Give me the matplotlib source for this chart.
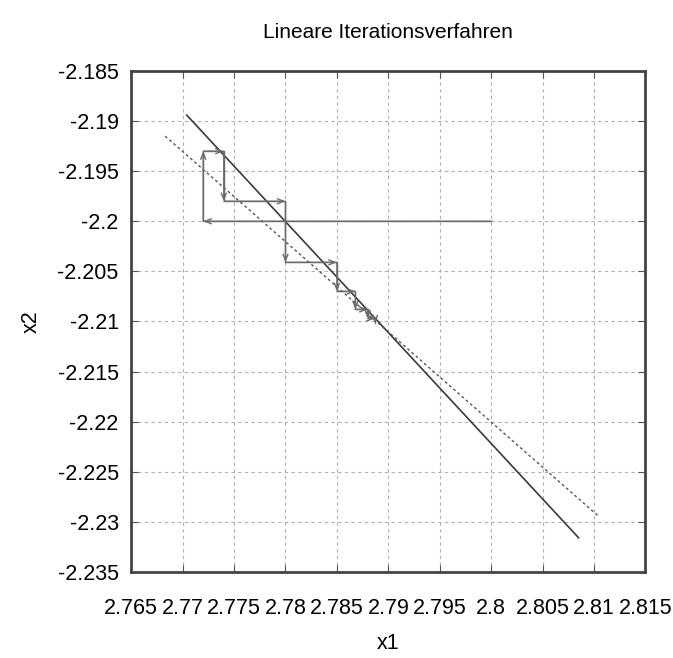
import matplotlib
matplotlib.use("Agg")
import matplotlib.pyplot as plt

# the two straight lines (solid = first equation, dotted = second)
line1_x = [2.7704, 2.8085]
line1_y = [-2.1894, -2.2316]
line2_x = [2.7683, 2.8105]
line2_y = [-2.1915, -2.2295]

# iteration path, start at (2.8, -2.2)
iter_x = [2.8, 2.772, 2.772, 2.774, 2.774, 2.780, 2.780, 2.785, 2.785,
          2.7868, 2.7868, 2.7880, 2.7880, 2.7887, 2.7887]
iter_y = [-2.2, -2.2, -2.193, -2.193, -2.198, -2.198, -2.2041, -2.2041,
          -2.207, -2.207, -2.2088, -2.2088, -2.2097, -2.2097, -2.2102]

xticks = [2.765, 2.77, 2.775, 2.78, 2.785, 2.79, 2.795, 2.8, 2.805, 2.81, 2.815]
xtick_labels = ["2.765", "2.77", "2.775", "2.78", "2.785", "2.79", "2.795",
                "2.8", "2.805", "2.81", "2.815"]
yticks = [-2.185, -2.19, -2.195, -2.2, -2.205, -2.21, -2.215, -2.22,
          -2.225, -2.23, -2.235]
ytick_labels = ["-2.185", "-2.19", "-2.195", "-2.2", "-2.205", "-2.21",
                "-2.215", "-2.22", "-2.225", "-2.23", "-2.235"]

plt.rcParams["font.family"] = ["Liberation Sans", "DejaVu Sans"]

fig = plt.figure(figsize=(6.73, 6.58), dpi=100)
ax = fig.add_axes([0.195, 0.131, 0.764, 0.761])

ax.plot(line1_x, line1_y, color="#3a3a3a", lw=1.2)
ax.plot(line2_x, line2_y, color="#555555", lw=1.0, linestyle=(0, (2, 2)))

ax.plot(iter_x, iter_y, color="#6a6a6a", lw=1.0)
for i in range(len(iter_x) - 1):
    ax.annotate("", xy=(iter_x[i + 1], iter_y[i + 1]),
                xytext=(iter_x[i], iter_y[i]),
                arrowprops=dict(arrowstyle="->,head_length=0.45,head_width=0.18",
                                color="#6a6a6a", lw=1.0,
                                shrinkA=0, shrinkB=0))

ax.set_xlim(2.765, 2.815)
ax.set_ylim(-2.235, -2.185)
ax.set_xticks(xticks)
ax.set_xticklabels(xtick_labels)
ax.set_yticks(yticks)
ax.set_yticklabels(ytick_labels)
ax.tick_params(direction="in", length=5, width=0.8, color="#555555",
               top=True, right=True, labelsize=15.5)
ax.tick_params(axis="x", pad=19)
ax.tick_params(axis="y", pad=9)
ax.grid(True, color="#b0b0b0", linestyle=(0, (3, 3)), lw=0.8)
for s in ax.spines.values():
    s.set_linewidth(2.0)
    s.set_color("#444444")

ax.set_title("Lineare Iterationsverfahren", fontsize=15, pad=24)
ax.set_xlabel("x1", fontsize=15.5, labelpad=10)
ax.set_ylabel("x2", fontsize=15.5, labelpad=11)

fig.savefig("out.png", dpi=100)
